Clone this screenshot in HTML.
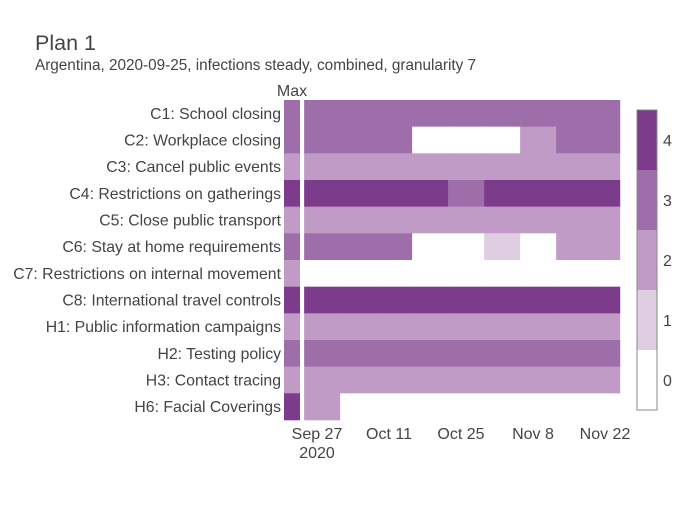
<!DOCTYPE html>
<html><head><meta charset="utf-8"><style>
body{margin:0;background:#fff;font-family:"Liberation Sans",Arial,sans-serif}
svg text{fill:#444;font-family:"Liberation Sans",Arial,sans-serif}
</style></head><body>
<svg id="chart" width="700" height="500">
<text x="35" y="50" font-size="21.5">Plan 1</text>
<text x="35" y="70" font-size="15.3">Argentina, 2020-09-25, infections steady, combined, granularity 7</text>
<text x="292" y="96" font-size="16" text-anchor="middle">Max</text>
<g id="cells"></g>
<g id="ylabels"></g>
<g id="xticks"></g>
<g id="colorbar"></g>
</svg>
<script>
const categories=["C1: School closing","C2: Workplace closing","C3: Cancel public events","C4: Restrictions on gatherings","C5: Close public transport","C6: Stay at home requirements","C7: Restrictions on internal movement","C8: International travel controls","H1: Public information campaigns","H2: Testing policy","H3: Contact tracing","H6: Facial Coverings"];
const maxValues=[3,3,2,4,2,3,2,4,2,3,2,4];
const seriesC1=[3,3,3,3,3,3,3,3,3];
const seriesC2=[3,3,3,0,0,0,2,3,3];
const seriesC3=[2,2,2,2,2,2,2,2,2];
const seriesC4=[4,4,4,4,3,4,4,4,4];
const seriesC5=[2,2,2,2,2,2,2,2,2];
const seriesC6=[3,3,3,0,0,1,0,2,2];
const seriesC7=[0,0,0,0,0,0,0,0,0];
const seriesC8=[4,4,4,4,4,4,4,4,4];
const seriesH1=[2,2,2,2,2,2,2,2,2];
const seriesH2=[3,3,3,3,3,3,3,3,3];
const seriesH3=[2,2,2,2,2,2,2,2,2];
const seriesH6=[2,0,0,0,0,0,0,0,0];
const series=[seriesC1,seriesC2,seriesC3,seriesC4,seriesC5,seriesC6,seriesC7,seriesC8,seriesH1,seriesH2,seriesH3,seriesH6];
const columnStartDays=[-2.5,4.5,11.5,18.5,25.5,32.5,39.5,46.5,53.5]; // days relative to Sep 27
const lastDay=58.9;
const tickDays=[0,14,28,42,56];
const tickLabels=["Sep 27","Oct 11","Oct 25","Nov 8","Nov 22"];
const colorTicks=[0,1,2,3,4];
const colors=["#ffffff","#dfcde1","#bf9bc5","#9e6eab","#7d3b8b"];
const NS="http://www.w3.org/2000/svg";
const x=d=>317+d*36/7;
const rowH=80/3, y=i=>100+i*rowH;
function mk(tag,attrs,parent){const e=document.createElementNS(NS,tag);for(const k in attrs)e.setAttribute(k,attrs[k]);parent.appendChild(e);return e;}
const cells=document.getElementById('cells');
categories.forEach((c,i)=>{
  const m=mk('rect',{x:284,y:y(i),width:16,height:rowH+0.3,fill:colors[maxValues[i]]},cells);
  
  
  series[i].forEach((v,j)=>{
    const x0=x(columnStartDays[j]);
    const x1=x(Math.min(columnStartDays[j]+7,lastDay));
    const r=mk('rect',{x:x0,y:y(i),width:x1-x0+0.3,height:rowH+0.3,fill:colors[v]},cells);
    
    
  });
  const t=mk('text',{x:281,y:y(i)+rowH/2+5.5,'font-size':15.8,'text-anchor':'end'},document.getElementById('ylabels'));
  t.textContent=c;
  
  
});
const xt=document.getElementById('xticks');
tickDays.forEach((d,i)=>{
  const t=mk('text',{x:x(d),y:439,'font-size':16,'text-anchor':'middle'},xt);
  t.textContent=tickLabels[i];
  
  
});
const yr=mk('text',{x:x(0),y:458,'font-size':16,'text-anchor':'middle'},xt);
yr.textContent="2020";


const cb=document.getElementById('colorbar');
colorTicks.forEach((v,i)=>{
  const yy=410-(v+1)*60;
  const r=mk('rect',{x:637,y:yy,width:20,height:60,fill:colors[v]},cb);
  
  
  const t=mk('text',{x:663,y:yy+36,'font-size':16},cb);
  t.textContent=v;
  
  
});
const bd=mk('rect',{x:637,y:110,width:20,height:300,fill:'none',stroke:'#888','stroke-width':1},cb);


</script>
</body></html>
